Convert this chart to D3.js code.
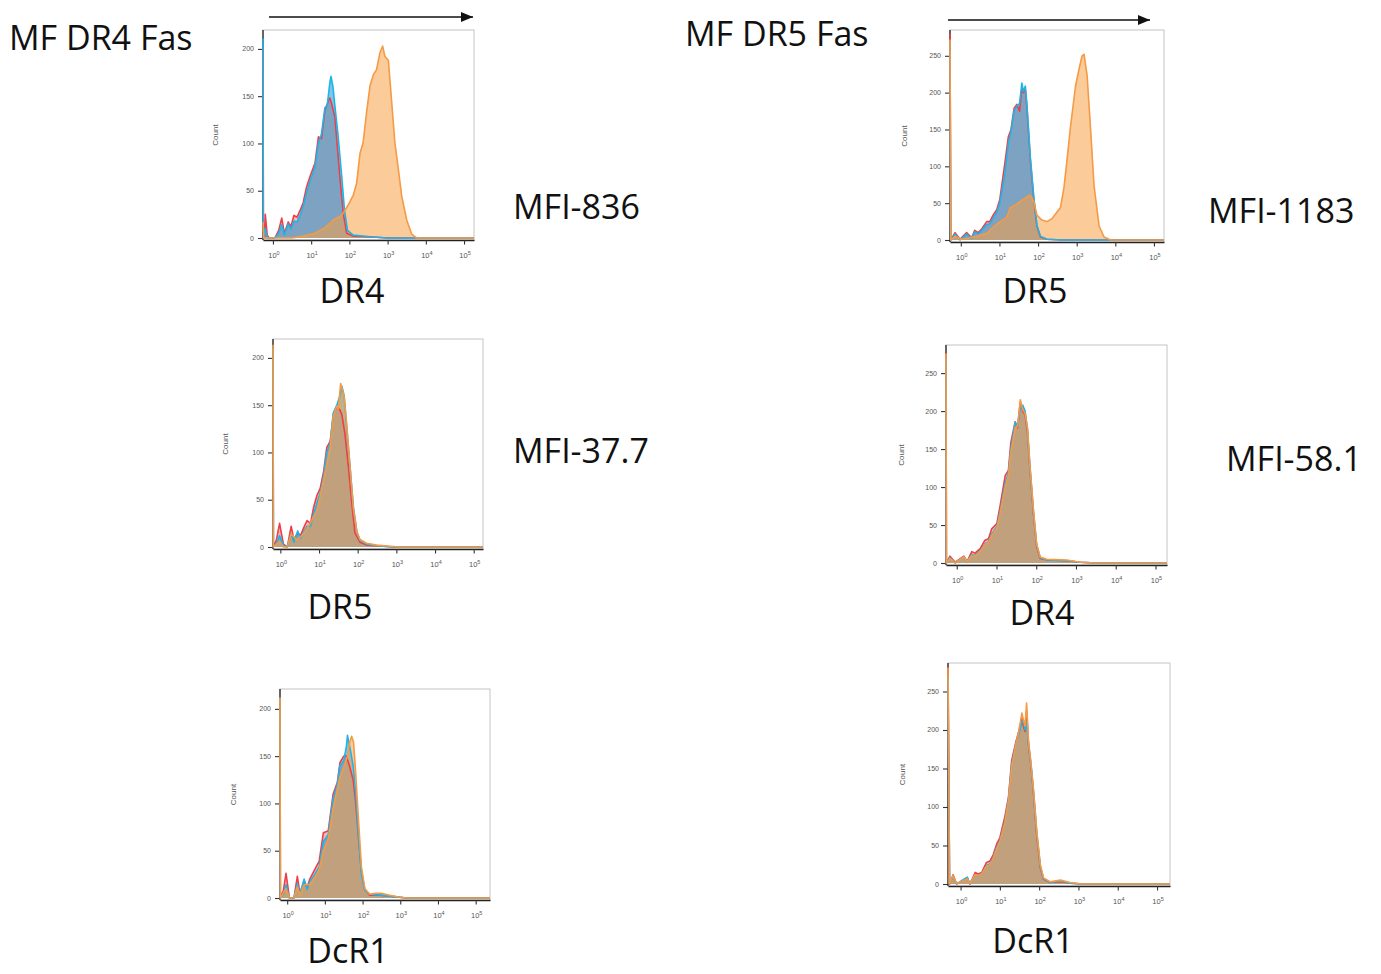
<!DOCTYPE html>
<html>
<head>
<meta charset="utf-8">
<script src="https://cdn.jsdelivr.net/npm/d3@7"></script>
<style>
  body { margin: 0; background: #fff; }
  svg { display: block; }
</style>
</head>
<body>
<svg id="fig" width="1381" height="974"></svg>
<script>
// Histogram outlines: [log10 fluorescence intensity, cell count]
// Red, blue and orange overlays for each stained marker.

// MF DR4 Fas — DR4 stain
const dr4aRed = [[-0.35,205],[-0.25,0],[-0.22,0],[-0.2,25],[-0.15,3],[-0.1,0],[0.05,0],[0.15,8],[0.23,21],[0.3,5],[0.4,17],[0.47,12],[0.55,24],[0.63,22],[0.72,30],[0.79,37],[0.88,54],[0.97,65],[1.1,79],[1.19,107],[1.27,105],[1.36,135],[1.45,145],[1.49,148],[1.55,140],[1.62,128],[1.75,65],[1.84,26],[1.93,5],[2.1,2],[2.6,1],[3.0,0],[5.4,0]];
const dr4aBlue = [[-0.35,211],[-0.25,0],[-0.2,10],[-0.15,0],[0.05,0],[0.15,5],[0.23,14],[0.3,3],[0.4,15],[0.47,9],[0.55,18],[0.63,17],[0.72,25],[0.79,33],[0.88,48],[0.97,60],[1.1,75],[1.19,100],[1.27,110],[1.36,138],[1.42,140],[1.49,165],[1.52,171],[1.57,160],[1.62,140],[1.7,110],[1.8,65],[1.87,30],[1.95,8],[2.1,3],[2.6,1],[3.0,0],[5.4,0]];
const dr4aOrange = [[-0.35,17],[-0.24,0],[0.5,0],[0.8,2],[1.1,5],[1.33,10],[1.58,19],[1.8,24],[1.97,35],[2.1,45],[2.19,58],[2.28,90],[2.36,101],[2.45,133],[2.54,161],[2.63,173],[2.71,178],[2.8,196],[2.87,203],[2.93,192],[3.02,188],[3.11,142],[3.19,101],[3.28,73],[3.37,44],[3.5,19],[3.63,4],[3.76,0],[5.4,0]];

// MF DR4 Fas — DR5 stain
const dr5aRed = [[-0.35,205],[-0.18,0],[-0.1,8],[-0.02,25],[0.08,3],[0.18,0],[0.28,22],[0.35,8],[0.45,15],[0.52,12],[0.6,20],[0.69,28],[0.78,25],[0.86,42],[0.95,55],[1.03,62],[1.12,80],[1.2,105],[1.29,112],[1.37,140],[1.46,148],[1.54,145],[1.59,140],[1.67,120],[1.76,85],[1.85,45],[1.93,15],[2.06,5],[2.23,2],[2.57,1],[2.92,0],[5.4,0]];
const dr5aBlue = [[-0.35,210],[-0.18,0],[-0.1,4],[-0.02,12],[0.08,2],[0.18,0],[0.28,14],[0.35,5],[0.45,17],[0.52,9],[0.6,16],[0.69,22],[0.78,22],[0.86,35],[0.95,47],[1.03,57],[1.12,75],[1.2,100],[1.29,110],[1.37,142],[1.46,150],[1.54,160],[1.59,170],[1.65,160],[1.72,125],[1.8,86],[1.89,42],[1.98,16],[2.06,7],[2.23,3],[2.57,1],[2.92,0],[5.4,0]];
const dr5aOrange = [[-0.35,214],[-0.18,0],[-0.02,6],[0.08,0],[0.18,0],[0.28,14],[0.43,7],[0.6,14],[0.77,25],[0.95,39],[1.12,71],[1.29,106],[1.37,138],[1.46,149],[1.5,146],[1.56,173],[1.65,159],[1.72,127],[1.8,86],[1.89,40],[1.98,16],[2.06,8],[2.23,4],[2.49,2],[2.75,1],[3.09,0],[5.4,0]];

// MF DR4 Fas — DcR1 stain
const dcr1aRed = [[-0.35,205],[-0.18,0],[-0.1,8],[-0.03,26],[0.06,0],[0.18,0],[0.27,23],[0.34,5],[0.45,18],[0.53,11],[0.6,20],[0.73,30],[0.85,39],[0.96,69],[1.09,71],[1.22,110],[1.33,122],[1.4,143],[1.5,150],[1.57,150],[1.65,140],[1.75,125],[1.82,100],[1.9,60],[1.97,28],[2.06,9],[2.19,3],[2.46,3],[2.72,2],[3.16,0],[5.4,0]];
const dcr1aBlue = [[-0.35,212],[-0.18,0],[-0.1,4],[-0.03,14],[0.06,0],[0.18,0],[0.27,15],[0.34,4],[0.45,20],[0.53,9],[0.6,17],[0.73,25],[0.85,33],[0.96,60],[1.09,67],[1.22,105],[1.33,120],[1.4,140],[1.5,145],[1.57,160],[1.6,172],[1.66,160],[1.75,140],[1.82,110],[1.9,62],[1.97,25],[2.06,8],[2.19,4],[2.46,3],[2.72,2],[3.16,0],[5.4,0]];
const dcr1aOrange = [[-0.35,212],[-0.18,0],[-0.03,10],[0.06,0],[0.18,0],[0.27,12],[0.34,3],[0.45,14],[0.6,14],[0.73,22],[0.85,30],[0.96,50],[1.09,62],[1.22,95],[1.33,115],[1.4,128],[1.5,138],[1.6,150],[1.66,165],[1.71,171],[1.76,165],[1.8,143],[1.88,90],[1.97,33],[2.06,10],[2.19,4],[2.35,5],[2.5,5],[2.72,3],[2.95,1],[3.16,0],[5.4,0]];

// MF DR5 Fas — DR5 stain
const dr5bRed = [[-0.35,280],[-0.26,0],[-0.15,10],[-0.02,1],[0.15,10],[0.28,3],[0.36,13],[0.45,10],[0.54,15],[0.67,25],[0.75,25],[0.84,34],[0.93,41],[1.01,55],[1.14,104],[1.23,140],[1.3,150],[1.38,179],[1.45,184],[1.52,175],[1.58,205],[1.62,200],[1.67,205],[1.71,181],[1.8,109],[1.89,55],[1.97,19],[2.06,4],[2.23,1],[2.6,0],[5.4,0]];
const dr5bBlue = [[-0.35,270],[-0.26,0],[-0.15,8],[-0.02,0],[0.15,8],[0.28,2],[0.36,11],[0.45,8],[0.54,13],[0.67,21],[0.75,22],[0.84,30],[0.93,38],[1.01,50],[1.14,90],[1.23,130],[1.3,148],[1.38,175],[1.45,182],[1.52,185],[1.58,213],[1.62,202],[1.67,209],[1.71,185],[1.8,112],[1.89,58],[1.97,20],[2.06,5],[2.23,1],[2.6,0],[5.4,0]];
const dr5bOrange = [[-0.35,272],[-0.26,0],[-0.15,5],[0.0,1],[0.15,2],[0.4,5],[0.67,9],[0.85,18],[1.02,25],[1.19,31],[1.28,44],[1.45,49],[1.58,54],[1.8,61],[1.89,52],[1.97,34],[2.1,27],[2.23,25],[2.36,29],[2.49,38],[2.58,44],[2.67,71],[2.75,109],[2.84,154],[2.97,209],[3.06,232],[3.14,250],[3.19,252],[3.27,223],[3.36,150],[3.45,73],[3.58,19],[3.71,4],[3.88,0],[5.4,0]];

// MF DR5 Fas — DR4 stain
const dr4bRed = [[-0.35,276],[-0.26,0],[-0.17,9],[-0.04,1],[0.18,9],[0.26,2],[0.38,15],[0.46,13],[0.59,19],[0.71,30],[0.8,32],[0.88,45],[1.01,52],[1.09,75],[1.22,115],[1.3,122],[1.36,158],[1.47,186],[1.53,178],[1.6,212],[1.66,200],[1.72,195],[1.78,172],[1.84,125],[1.93,65],[2.01,22],[2.1,6],[2.27,4],[2.77,3],[3.11,1],[3.5,0],[5.4,0]];
const dr4bBlue = [[-0.35,270],[-0.26,0],[-0.17,7],[-0.04,0],[0.18,8],[0.26,2],[0.38,11],[0.46,10],[0.59,16],[0.71,25],[0.8,28],[0.88,38],[1.01,48],[1.09,68],[1.22,105],[1.3,118],[1.36,150],[1.47,185],[1.53,180],[1.6,205],[1.66,208],[1.72,200],[1.78,176],[1.84,128],[1.93,68],[2.01,24],[2.1,7],[2.27,4],[2.77,3],[3.11,1],[3.5,0],[5.4,0]];
const dr4bOrange = [[-0.35,276],[-0.26,0],[-0.17,6],[-0.04,0],[0.18,8],[0.26,2],[0.38,10],[0.46,9],[0.59,15],[0.71,24],[0.8,27],[0.88,36],[1.01,46],[1.09,65],[1.22,100],[1.3,115],[1.36,145],[1.47,178],[1.53,180],[1.6,215],[1.66,202],[1.72,197],[1.78,178],[1.84,130],[1.93,70],[2.01,25],[2.1,8],[2.27,5],[2.77,4],[3.11,1],[3.5,0],[5.4,0]];

// MF DR5 Fas — DcR1 stain
const dcr1bRed = [[-0.35,281],[-0.28,0],[-0.19,12],[-0.1,0],[0.17,8],[0.24,0],[0.37,15],[0.45,13],[0.54,15],[0.66,28],[0.75,30],[0.83,38],[0.92,52],[1.0,60],[1.13,88],[1.22,113],[1.3,160],[1.41,185],[1.47,196],[1.56,215],[1.6,205],[1.64,198],[1.68,225],[1.73,180],[1.79,155],[1.86,115],[1.94,62],[2.03,21],[2.11,6],[2.28,2],[2.54,3],[2.79,1],[3.1,0],[5.4,0]];
const dcr1bBlue = [[-0.35,270],[-0.28,0],[-0.19,10],[-0.1,0],[0.17,9],[0.24,0],[0.37,12],[0.45,11],[0.54,13],[0.66,24],[0.75,26],[0.83,34],[0.92,48],[1.0,56],[1.13,82],[1.22,110],[1.3,155],[1.41,183],[1.47,192],[1.56,210],[1.6,213],[1.64,200],[1.68,210],[1.73,182],[1.79,156],[1.86,118],[1.94,66],[2.03,23],[2.11,7],[2.28,2],[2.54,4],[2.79,1],[3.1,0],[5.4,0]];
const dcr1bOrange = [[-0.35,281],[-0.28,0],[-0.19,11],[-0.1,0],[0.17,7],[0.24,0],[0.37,12],[0.45,11],[0.54,13],[0.66,23],[0.75,25],[0.83,33],[0.92,46],[1.0,55],[1.13,80],[1.22,108],[1.3,152],[1.41,182],[1.47,195],[1.56,222],[1.6,213],[1.64,205],[1.68,235],[1.73,185],[1.79,158],[1.86,120],[1.94,68],[2.03,25],[2.11,8],[2.28,3],[2.54,5],[2.79,2],[3.1,0],[5.4,0]];

// Group titles and per-panel labels
const groupTitles = ["MF DR4 Fas", "MF DR5 Fas"];
const markerLabels = ["DR4", "DR5", "DcR1", "DR5", "DR4", "DcR1"];
const mfiLabels = ["MFI-836", "MFI-37.7", "", "MFI-1183", "MFI-58.1", ""];
const xTickExponents = [0, 1, 2, 3, 4, 5];
const yTicksLow = [0, 50, 100, 150, 200];
const yTicksHigh = [0, 50, 100, 150, 200, 250];

// Overlay styling: fill drawn semi-transparent, outline on top
const seriesStyle = [
  { stroke: "#ee3e48", fill: "rgb(235,60,60)",   opacity: 0.38 },
  { stroke: "#1fb4e8", fill: "rgb(15,145,205)",  opacity: 0.52 },
  { stroke: "#f59a45", fill: "rgb(248,160,70)",  opacity: 0.55 }
];

// Panel frames (pixels) and log-axis extents
const panels = [
  { x0: 263, x1: 474, y0: 30,  y1: 240, lo: -0.26, hi: 5.26, ymax: 220, yt: yTicksLow,
    series: [dr4aRed, dr4aBlue, dr4aOrange], marker: 0, mfi: 0,
    lab: [352, 303], mfiPos: [513, 219], countX: 218 },
  { x0: 273, x1: 483, y0: 339, y1: 549, lo: -0.19, hi: 5.24, ymax: 220, yt: yTicksLow,
    series: [dr5aRed, dr5aBlue, dr5aOrange], marker: 1, mfi: 1,
    lab: [340, 619], mfiPos: [513, 463], countX: 228 },
  { x0: 280, x1: 490, y0: 689, y1: 900, lo: -0.19, hi: 5.38, ymax: 221, yt: yTicksLow,
    series: [dcr1aRed, dcr1aBlue, dcr1aOrange], marker: 2, mfi: 2,
    lab: [348, 963], mfiPos: null, countX: 236 },
  { x0: 950, x1: 1164, y0: 30, y1: 242, lo: -0.28, hi: 5.26, ymax: 285, yt: yTicksHigh,
    series: [dr5bRed, dr5bBlue, dr5bOrange], marker: 3, mfi: 3,
    lab: [1035, 303], mfiPos: [1208, 223], countX: 907 },
  { x0: 946, x1: 1167, y0: 345, y1: 565, lo: -0.27, hi: 5.29, ymax: 287, yt: yTicksHigh,
    series: [dr4bRed, dr4bBlue, dr4bOrange], marker: 4, mfi: 4,
    lab: [1042, 625], mfiPos: [1226, 471], countX: 904 },
  { x0: 948, x1: 1170, y0: 663, y1: 886, lo: -0.32, hi: 5.33, ymax: 287, yt: yTicksHigh,
    series: [dcr1bRed, dcr1bBlue, dcr1bOrange], marker: 5, mfi: 5,
    lab: [1033, 953], mfiPos: null, countX: 905 }
];

const svg = d3.select("#fig");
const bigFont = "'Open Sans', 'Noto Sans', sans-serif";
const bigSize = 34;
const smallFont = "'Liberation Sans', Arial, sans-serif";

// Group titles and direction arrows
const defs = svg.append("defs");
defs.append("marker")
  .attr("id", "arrowHead").attr("viewBox", "0 0 12 10")
  .attr("refX", 12).attr("refY", 5)
  .attr("markerWidth", 13).attr("markerHeight", 10)
  .attr("markerUnits", "userSpaceOnUse")
  .attr("orient", "auto")
  .append("path").attr("d", "M0,0 L12,5 L0,10 Z").attr("fill", "#111");

[[9, 50, 269, 473, 17], [685, 46, 948, 1150, 20]].forEach((g, i) => {
  svg.append("text").attr("x", g[0]).attr("y", g[1])
    .attr("font-family", bigFont).attr("font-size", bigSize).attr("fill", "#111")
    .text(groupTitles[i]);
  svg.append("line").attr("x1", g[2]).attr("x2", g[3]).attr("y1", g[4]).attr("y2", g[4])
    .attr("stroke", "#111").attr("stroke-width", 1.7)
    .attr("marker-end", "url(#arrowHead)");
});

panels.forEach(p => {
  const g = svg.append("g");
  const x = d3.scaleLog().domain([10 ** p.lo, 10 ** p.hi]).range([p.x0, p.x1]).clamp(true);
  const y = d3.scaleLinear().domain([0, p.ymax]).range([p.y1 - 2, p.y0]).clamp(true);

  // frame
  g.append("rect").attr("x", p.x0).attr("y", p.y0)
    .attr("width", p.x1 - p.x0).attr("height", p.y1 - p.y0)
    .attr("fill", "#fff").attr("stroke", "#c4c4c4").attr("stroke-width", 1);

  // minor ticks
  const minorX = [];
  for (let e = -1; e <= 5; e++) for (let k = 2; k <= 9; k++) {
    const v = k * 10 ** e;
    if (v > 10 ** p.lo && v < 10 ** p.hi) minorX.push(v);
  }
  const minorY = d3.range(0, p.ymax, 10).filter(v => p.yt.indexOf(v) < 0);

  const ax = g.append("g").attr("transform", `translate(0,${p.y1})`);
  ax.call(d3.axisBottom(x).tickValues(minorX).tickSize(2.5).tickSizeOuter(0).tickFormat(""));
  ax.call(d3.axisBottom(x).tickValues(xTickExponents.map(e => 10 ** e)).tickSize(4.5).tickSizeOuter(0).tickFormat(""));
  ax.selectAll("path.domain").attr("stroke", "#222").attr("stroke-width", 1.3);
  ax.selectAll(".tick line").attr("stroke", "#333").attr("stroke-width", 1.1);

  const ay = g.append("g").attr("transform", `translate(${p.x0},0)`);
  ay.call(d3.axisLeft(y).tickValues(minorY).tickSize(2.5).tickSizeOuter(0).tickFormat(""));
  ay.call(d3.axisLeft(y).tickValues(p.yt).tickSize(5).tickSizeOuter(0).tickFormat(""));
  ay.selectAll("path.domain").attr("stroke", "#222").attr("stroke-width", 1.3)
    .attr("d", `M0,${p.y1}V${p.y0}`);
  ay.selectAll(".tick line").attr("stroke", "#333").attr("stroke-width", 1.1);

  // tick labels
  xTickExponents.forEach(e => {
    const t = g.append("text").attr("x", x(10 ** e) + 1).attr("y", p.y1 + 18)
      .attr("text-anchor", "middle").attr("font-family", smallFont)
      .attr("font-size", 7.5).attr("fill", "#555");
    t.append("tspan").text("10");
    t.append("tspan").attr("font-size", 5.5).attr("dy", -3.5).text(e);
  });
  p.yt.forEach(v => {
    g.append("text").attr("x", p.x0 - 9).attr("y", y(v) + 2.5)
      .attr("text-anchor", "end").attr("font-family", smallFont)
      .attr("font-size", 7).attr("fill", "#555").text(v);
  });
  g.append("text")
    .attr("transform", `translate(${p.countX},${(p.y0 + p.y1) / 2}) rotate(-90)`)
    .attr("text-anchor", "middle").attr("font-family", smallFont)
    .attr("font-size", 8).attr("fill", "#555").text("Count");

  // histograms
  const area = d3.area().x(d => x(10 ** d[0])).y0(y(0)).y1(d => y(d[1]));
  const line = d3.line().x(d => x(10 ** d[0])).y(d => y(d[1]));
  p.series.forEach((s, i) => {
    g.append("path").datum(s).attr("d", area)
      .attr("fill", seriesStyle[i].fill).attr("fill-opacity", seriesStyle[i].opacity);
  });
  p.series.forEach((s, i) => {
    g.append("path").datum(s).attr("d", line)
      .attr("fill", "none").attr("stroke", seriesStyle[i].stroke)
      .attr("stroke-width", 1.6).attr("stroke-linejoin", "round");
  });

  // marker and MFI labels
  svg.append("text").attr("x", p.lab[0]).attr("y", p.lab[1])
    .attr("text-anchor", "middle").attr("font-family", bigFont)
    .attr("font-size", bigSize).attr("fill", "#111").text(markerLabels[p.marker]);
  if (p.mfiPos) {
    svg.append("text").attr("x", p.mfiPos[0]).attr("y", p.mfiPos[1])
      .attr("font-family", bigFont).attr("font-size", bigSize).attr("fill", "#111")
      .text(mfiLabels[p.mfi]);
  }
});
</script>
</body>
</html>
